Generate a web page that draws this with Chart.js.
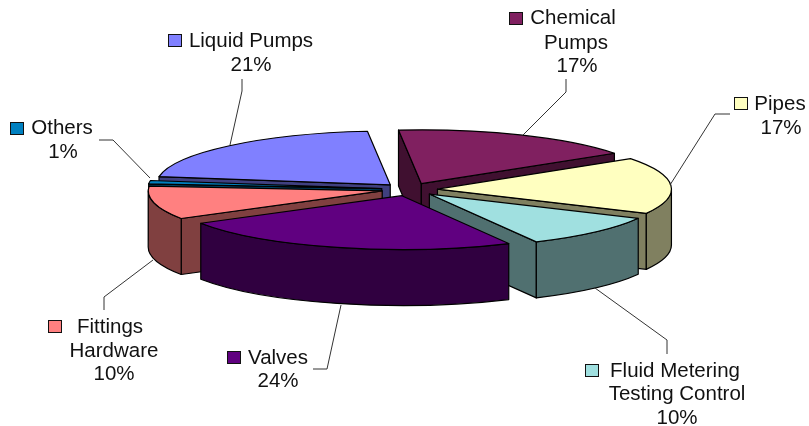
<!DOCTYPE html>
<html>
<head>
<meta charset="utf-8">
<style>
  html, body { margin: 0; background: #fff; }
  canvas { display: block; }
</style>
<script src="https://cdn.jsdelivr.net/npm/chart.js@4"></script>
</head>
<body>
<canvas id="myChart" width="809" height="426"></canvas>
<script>
// DATA
const categories = ['Chemical Pumps', 'Pipes', 'Fluid Metering Testing Control', 'Valves', 'Fittings Hardware', 'Others', 'Liquid Pumps'];
const shares = [17, 17, 10, 24, 10, 1, 21];
const topColors = ['#802060', '#FFFFC0', '#A0E0E0', '#600080', '#FF8080', '#0080C0', '#8080FF'];
const wallColors = ['#401030', '#808060', '#507070', '#300040', '#804040', '#004060', '#404080'];

// label text, one list of lines per slice
const labelLines = [['Chemical', 'Pumps'], ['Pipes'], ['Fluid Metering', 'Testing Control'], ['Valves'], ['Fittings', 'Hardware'], ['Others'], ['Liquid Pumps']];

// LOOK OF THE FAKE 3D
const view = { centerY: 189.5, tilt: 0.23, depth: 56, explode: 28 };

// key = legend square, lines = center x / baseline of each text line, leader = line to the pie
const labelLayout = [
  { key: [509, 12], lines: [[573, 24], [576, 49], [577, 72]], leader: [[566, 79], [566, 92], [523, 135]] },
  { key: [734, 97], lines: [[780, 110], [781, 134]], leader: [[730, 114], [715, 114], [670, 185]] },
  { key: [585, 364], lines: [[675, 377], [677, 400], [677, 424]], leader: [[667, 354], [667, 340], [595, 288]] },
  { key: [227, 351], lines: [[278, 364], [278, 387]], leader: [[313, 369], [327, 369], [341, 305]] },
  { key: [48, 320], lines: [[110, 333], [114, 357], [114, 380]], leader: [[104, 310], [104, 297], [153, 260]] },
  { key: [10, 122], lines: [[62, 134], [63, 158]], leader: [[99, 140], [113, 140], [150, 178]] },
  { key: [168, 34], lines: [[251, 47], [251, 71]], leader: [[242, 79], [242, 91], [230, 145]] }
];

// back slices get their walls painted first
const wallOrder = [0, 6, 5, 1, 4, 2, 3];

function flatY(chart, y) {
  const middle = (chart.chartArea.top + chart.chartArea.bottom) / 2;
  return view.centerY + (y - middle) * view.tilt;
}

function drawRadialWall(ctx, x, y, r, angle) {
  const ry = r * view.tilt;
  ctx.beginPath();
  ctx.moveTo(x, y);
  ctx.lineTo(x + Math.cos(angle) * r, y + Math.sin(angle) * ry);
  ctx.lineTo(x + Math.cos(angle) * r, y + Math.sin(angle) * ry + view.depth);
  ctx.lineTo(x, y + view.depth);
  ctx.closePath();
  ctx.fill();
  ctx.stroke();
}

function drawOuterWall(ctx, x, y, r, from, to) {
  const ry = r * view.tilt;
  ctx.beginPath();
  ctx.ellipse(x, y, r, ry, 0, from, to);
  ctx.ellipse(x, y + view.depth, r, ry, 0, to, from, true);
  ctx.closePath();
  ctx.fill();
  ctx.stroke();
}

const pie3d = {
  id: 'pie3d',
  // push every slice away from the middle
  afterDatasetsUpdate(chart) {
    chart.getDatasetMeta(0).data.forEach(arc => {
      const mid = (arc.startAngle + arc.endAngle) / 2;
      arc.x += Math.cos(mid) * view.explode;
      arc.y += Math.sin(mid) * view.explode;
    });
  },
  beforeDatasetDraw(chart) {
    const ctx = chart.ctx;
    const arcs = chart.getDatasetMeta(0).data;
    ctx.save();
    ctx.strokeStyle = '#000';
    ctx.lineWidth = 1.2;
    ctx.lineJoin = 'round';
    wallOrder.forEach(i => {
      const arc = arcs[i];
      const x = arc.x;
      const y = flatY(chart, arc.y);
      const r = arc.outerRadius;
      ctx.fillStyle = wallColors[i];
      if (Math.cos(arc.startAngle) < 0) drawRadialWall(ctx, x, y, r, arc.startAngle);
      if (Math.cos(arc.endAngle) > 0) drawRadialWall(ctx, x, y, r, arc.endAngle);
      const from = Math.max(arc.startAngle, 0);
      const to = Math.min(arc.endAngle, Math.PI);
      if (to > from) drawOuterWall(ctx, x, y, r, from, to);
    });
    ctx.restore();

    // the library's own slices, squashed flat
    const middle = (chart.chartArea.top + chart.chartArea.bottom) / 2;
    ctx.save();
    ctx.translate(0, view.centerY);
    ctx.scale(1, view.tilt);
    ctx.translate(0, -middle);
  },
  afterDatasetDraw(chart) {
    const ctx = chart.ctx;
    ctx.restore();
    ctx.save();
    ctx.strokeStyle = '#000';
    ctx.lineWidth = 1.2;
    ctx.lineJoin = 'round';
    chart.getDatasetMeta(0).data.forEach(arc => {
      const y = flatY(chart, arc.y);
      ctx.beginPath();
      ctx.moveTo(arc.x, y);
      ctx.ellipse(arc.x, y, arc.outerRadius, arc.outerRadius * view.tilt, 0, arc.startAngle, arc.endAngle);
      ctx.closePath();
      ctx.stroke();
    });
    ctx.restore();
  },
  afterDraw(chart) {
    const ctx = chart.ctx;
    ctx.save();
    labelLayout.forEach((place, i) => {
      // leader
      ctx.strokeStyle = '#333';
      ctx.lineWidth = 1;
      ctx.beginPath();
      place.leader.forEach((p, n) => n ? ctx.lineTo(p[0], p[1]) : ctx.moveTo(p[0], p[1]));
      ctx.stroke();
      // legend square
      ctx.fillStyle = topColors[i];
      ctx.strokeStyle = '#111';
      ctx.lineWidth = 1;
      ctx.fillRect(place.key[0], place.key[1], 13, 12);
      ctx.strokeRect(place.key[0] + 0.5, place.key[1] + 0.5, 13, 12);
      // text
      const lines = labelLines[i].concat(shares[i] + '%');
      ctx.fillStyle = '#111';
      ctx.font = '20.5px "Liberation Sans", Arial, sans-serif';
      ctx.textAlign = 'center';
      lines.forEach((line, n) => ctx.fillText(line, place.lines[n][0], place.lines[n][1]));
    });
    ctx.restore();
  }
};

// CHART
new Chart(document.getElementById('myChart'), {
  type: 'pie',
  data: {
    labels: categories,
    datasets: [{
      data: shares,
      backgroundColor: topColors,
      borderWidth: 0,
      clip: false
    }]
  },
  options: {
    responsive: false,
    animation: false,
    rotation: -5.6,
    radius: 234,
    layout: { padding: { left: 10 } },
    plugins: {
      legend: { display: false },
      tooltip: { enabled: false }
    }
  },
  plugins: [pie3d]
});
</script>
</body>
</html>
